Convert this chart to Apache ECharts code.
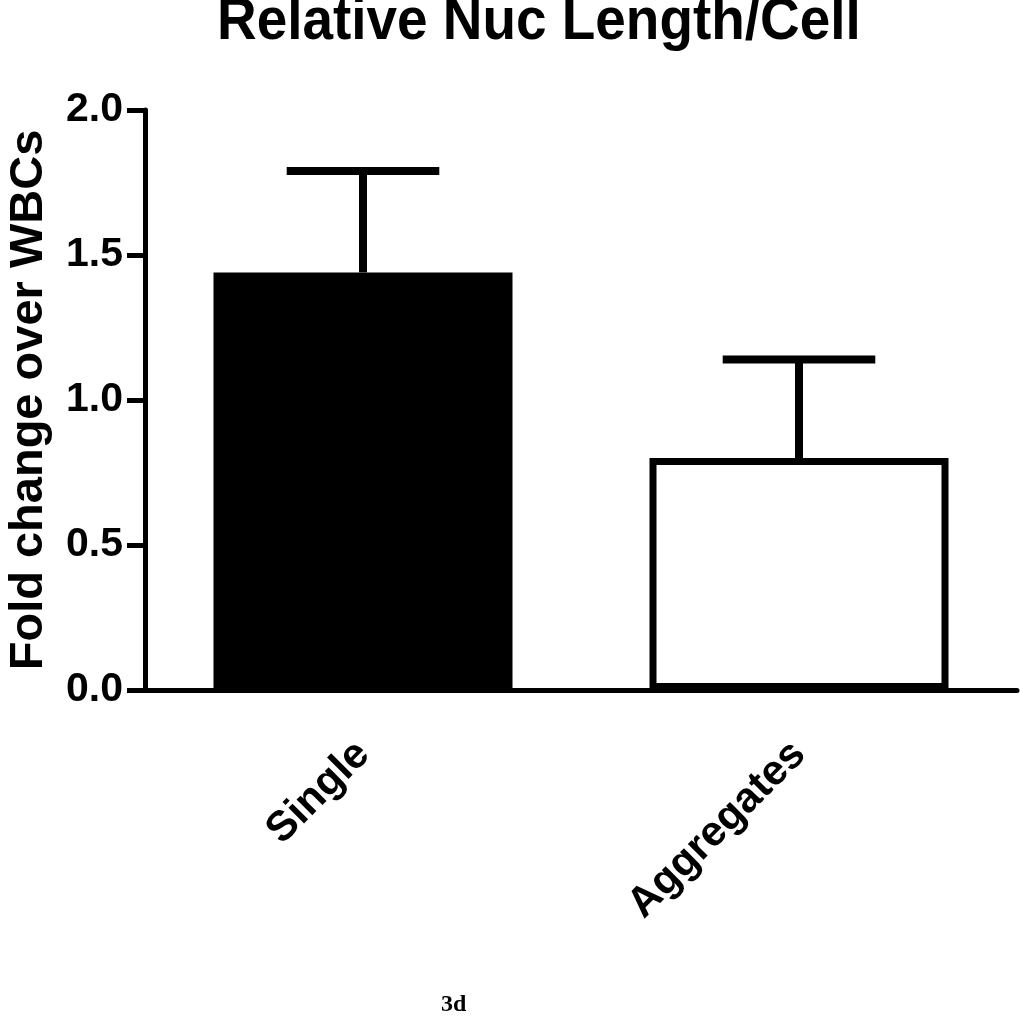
<!DOCTYPE html>
<html>
<head>
<meta charset="utf-8">
<script src="https://cdn.jsdelivr.net/npm/echarts@6/dist/echarts.min.js"></script>
<style>
  html, body { margin: 0; padding: 0; background: #fff; }
  #chart { width: 1020px; height: 1017px; }
</style>
</head>
<body>
<div id="chart"></div>
<script>
// data
const categories = ['Single', 'Aggregates'];
const means = [1.44, 0.80];
const errTops = [1.79, 1.14];
const yTicks = [0, 0.5, 1.0, 1.5, 2.0];

const FONT = '"Liberation Sans", Arial, sans-serif';

function renderChart() {
  const dom = document.getElementById('chart');
  const chart = echarts.init(dom, null, { renderer: 'canvas' });
  const option = {
    animation: false,
    backgroundColor: '#fff',
    grid: {
      left: 145,
      right: 3,
      top: 110,
      bottom: 327,
      containLabel: false,
      outerBoundsMode: 'none',
    },
    xAxis: {
      type: 'category',
      data: categories,
      axisLine: { lineStyle: { color: '#000', width: 5 } },
      axisTick: { alignWithLabel: true, length: 20, lineStyle: { color: '#000', width: 6 } },
      axisLabel: {
        rotate: 45,
        interval: 0,
        margin: 58,
        color: '#000',
        fontFamily: FONT,
        fontWeight: 'bold',
        fontSize: 42,
      },
    },
    yAxis: {
      type: 'value',
      min: yTicks[0],
      max: yTicks[yTicks.length - 1],
      interval: 0.5,
      name: 'Fold change over WBCs',
      nameLocation: 'middle',
      nameGap: 92,
      nameTextStyle: {
        color: '#000',
        fontFamily: FONT,
        fontWeight: 'bold',
        fontSize: 47,
      },
      splitLine: { show: false },
      axisLine: { show: true, lineStyle: { color: '#000', width: 5 } },
      axisTick: { show: true, length: 18, lineStyle: { color: '#000', width: 5 } },
      axisLabel: {
        margin: 22,
        color: '#000',
        fontFamily: FONT,
        fontWeight: 'bold',
        fontSize: 41,
        formatter: (v) => v.toFixed(1),
      },
    },
    series: [
      {
        type: 'bar',
        barWidth: 299,
        data: means.map((v, i) => ({
          value: v,
          itemStyle: {
            color: i === 0 ? '#000' : '#fff',
            borderColor: '#000',
            borderWidth: 7,
          },
        })),
        z: 2,
      },
      {
        type: 'custom',
        data: means.map((v, i) => [i, v, errTops[i]]),
        z: 1,
        renderItem: function (params, api) {
          const idx = api.value(0);
          const base = api.coord([idx, api.value(1)]);
          const top = api.coord([idx, api.value(2)]);
          const half = api.size([1, 0])[0] * 0.175;
          const style = { stroke: '#000', lineWidth: 8, fill: null };
          return {
            type: 'group',
            children: [
              { type: 'line', shape: { x1: base[0], y1: base[1], x2: top[0], y2: top[1] }, style: style },
              { type: 'line', shape: { x1: top[0] - half, y1: top[1], x2: top[0] + half, y2: top[1] }, style: style },
            ],
          };
        },
      },
    ],
    graphic: [
      {
        type: 'text',
        x: 217,
        y: 22,
        scaleX: 0.915,
        style: {
          text: 'Relative Nuc Length/Cell',
          fontFamily: FONT,
          fontWeight: 'bold',
          fontSize: 60,
          fill: '#000',
          align: 'left',
          verticalAlign: 'middle',
        },
      },
      {
        type: 'text',
        left: 441,
        top: 993,
        style: {
          text: '3d',
          fontFamily: '"Liberation Serif", "DejaVu Serif", serif',
          fontWeight: 'bold',
          fontSize: 24,
          fill: '#000',
        },
      },
    ],
  };
  chart.setOption(option, true);
}
renderChart();
</script>
</body>
</html>
